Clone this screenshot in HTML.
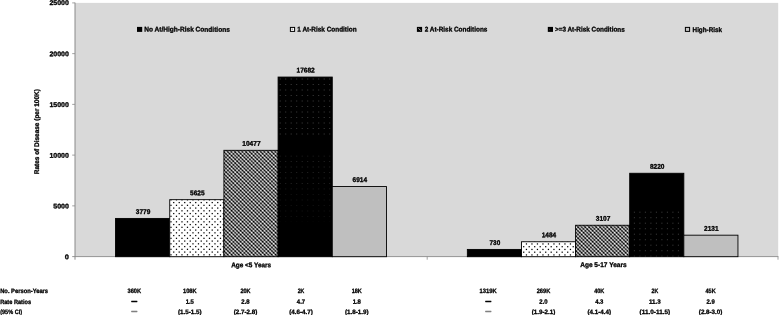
<!DOCTYPE html>
<html lang="en"><head><meta charset="utf-8"><title>Rates of Disease by Age Group and Risk Condition</title>
<style>html,body{margin:0;padding:0;background:#fff}svg{display:block}text{font-family:"Liberation Sans",sans-serif;font-weight:bold;fill:#000;stroke:#000;stroke-width:0.3px;stroke-linejoin:round}</style>
</head><body>
<svg width="779" height="315" viewBox="0 0 779 315">
<defs>
<pattern id="p5" patternUnits="userSpaceOnUse" x="172" y="201" width="11" height="11"><rect width="11" height="11" fill="#fff"/><rect x="1.100" y="0.950" width="1.25" height="1.25" fill="#000"/><rect x="3.850" y="3.700" width="1.25" height="1.25" fill="#000"/><rect x="1.100" y="6.450" width="1.25" height="1.25" fill="#000"/><rect x="3.850" y="9.200" width="1.25" height="1.25" fill="#000"/><rect x="6.600" y="0.950" width="1.25" height="1.25" fill="#000"/><rect x="9.350" y="3.700" width="1.25" height="1.25" fill="#000"/><rect x="6.600" y="6.450" width="1.25" height="1.25" fill="#000"/><rect x="9.350" y="9.200" width="1.25" height="1.25" fill="#000"/></pattern>
<pattern id="p5b" patternUnits="userSpaceOnUse" x="512" y="201" width="11" height="11"><rect width="11" height="11" fill="#fff"/><rect x="0.075" y="1.075" width="1.25" height="1.25" fill="#000"/><rect x="2.825" y="3.825" width="1.25" height="1.25" fill="#000"/><rect x="0.075" y="6.575" width="1.25" height="1.25" fill="#000"/><rect x="2.825" y="9.325" width="1.25" height="1.25" fill="#000"/><rect x="5.575" y="1.075" width="1.25" height="1.25" fill="#000"/><rect x="8.325" y="3.825" width="1.25" height="1.25" fill="#000"/><rect x="5.575" y="6.575" width="1.25" height="1.25" fill="#000"/><rect x="8.325" y="9.325" width="1.25" height="1.25" fill="#000"/></pattern>
<pattern id="pk" patternUnits="userSpaceOnUse" x="279" y="78" width="11" height="11"><rect x="0.70" y="0.50" width="1" height="1" fill="#3d3d3d"/><rect x="0.70" y="6.00" width="1" height="1" fill="#3d3d3d"/><rect x="6.20" y="0.50" width="1" height="1" fill="#3d3d3d"/><rect x="6.20" y="6.00" width="1" height="1" fill="#3d3d3d"/></pattern>
<pattern id="pk2" patternUnits="userSpaceOnUse" x="633" y="211" width="11" height="11"><rect x="0.90" y="0.70" width="1" height="1" fill="#3d3d3d"/><rect x="0.90" y="6.20" width="1" height="1" fill="#3d3d3d"/><rect x="6.40" y="0.70" width="1" height="1" fill="#3d3d3d"/><rect x="6.40" y="6.20" width="1" height="1" fill="#3d3d3d"/></pattern>
<pattern id="pc" patternUnits="userSpaceOnUse" x="224" y="150" width="11" height="11">
<rect x="0" y="0" width="1.02" height="1.02" fill="#e5e5e5"/>
<rect x="1" y="0" width="1.02" height="1.02" fill="#474747"/>
<rect x="2" y="0" width="1.02" height="1.02" fill="#0e0e0e"/>
<rect x="3" y="0" width="1.02" height="1.02" fill="#a2a2a2"/>
<rect x="4" y="0" width="1.02" height="1.02" fill="#b8b8b8"/>
<rect x="5" y="0" width="1.02" height="1.02" fill="#3d3d3d"/>
<rect x="6" y="0" width="1.02" height="1.02" fill="#5d5d5d"/>
<rect x="7" y="0" width="1.02" height="1.02" fill="#c0c0c0"/>
<rect x="8" y="0" width="1.02" height="1.02" fill="#646464"/>
<rect x="9" y="0" width="1.02" height="1.02" fill="#101010"/>
<rect x="10" y="0" width="1.02" height="1.02" fill="#9a9a9a"/>
<rect x="0" y="1" width="1.02" height="1.02" fill="#474747"/>
<rect x="1" y="1" width="1.02" height="1.02" fill="#b0b0b0"/>
<rect x="2" y="1" width="1.02" height="1.02" fill="#909090"/>
<rect x="3" y="1" width="1.02" height="1.02" fill="#323232"/>
<rect x="4" y="1" width="1.02" height="1.02" fill="#6d6d6d"/>
<rect x="5" y="1" width="1.02" height="1.02" fill="#b7b7b7"/>
<rect x="6" y="1" width="1.02" height="1.02" fill="#666666"/>
<rect x="7" y="1" width="1.02" height="1.02" fill="#343434"/>
<rect x="8" y="1" width="1.02" height="1.02" fill="#969696"/>
<rect x="9" y="1" width="1.02" height="1.02" fill="#adadad"/>
<rect x="10" y="1" width="1.02" height="1.02" fill="#434343"/>
<rect x="0" y="2" width="1.02" height="1.02" fill="#0e0e0e"/>
<rect x="1" y="2" width="1.02" height="1.02" fill="#909090"/>
<rect x="2" y="2" width="1.02" height="1.02" fill="#d4d4d4"/>
<rect x="3" y="2" width="1.02" height="1.02" fill="#5a5a5a"/>
<rect x="4" y="2" width="1.02" height="1.02" fill="#313131"/>
<rect x="5" y="2" width="1.02" height="1.02" fill="#969696"/>
<rect x="6" y="2" width="1.02" height="1.02" fill="#8e8e8e"/>
<rect x="7" y="2" width="1.02" height="1.02" fill="#3c3c3c"/>
<rect x="8" y="2" width="1.02" height="1.02" fill="#7d7d7d"/>
<rect x="9" y="2" width="1.02" height="1.02" fill="#c8c8c8"/>
<rect x="10" y="2" width="1.02" height="1.02" fill="#5a5a5a"/>
<rect x="0" y="3" width="1.02" height="1.02" fill="#a2a2a2"/>
<rect x="1" y="3" width="1.02" height="1.02" fill="#323232"/>
<rect x="2" y="3" width="1.02" height="1.02" fill="#5a5a5a"/>
<rect x="3" y="3" width="1.02" height="1.02" fill="#d3d3d3"/>
<rect x="4" y="3" width="1.02" height="1.02" fill="#838383"/>
<rect x="5" y="3" width="1.02" height="1.02" fill="#080808"/>
<rect x="6" y="3" width="1.02" height="1.02" fill="#6c6c6c"/>
<rect x="7" y="3" width="1.02" height="1.02" fill="#d7d7d7"/>
<rect x="8" y="3" width="1.02" height="1.02" fill="#6e6e6e"/>
<rect x="9" y="3" width="1.02" height="1.02" fill="#2a2a2a"/>
<rect x="10" y="3" width="1.02" height="1.02" fill="#949494"/>
<rect x="0" y="4" width="1.02" height="1.02" fill="#b8b8b8"/>
<rect x="1" y="4" width="1.02" height="1.02" fill="#6d6d6d"/>
<rect x="2" y="4" width="1.02" height="1.02" fill="#313131"/>
<rect x="3" y="4" width="1.02" height="1.02" fill="#838383"/>
<rect x="4" y="4" width="1.02" height="1.02" fill="#aaaaaa"/>
<rect x="5" y="4" width="1.02" height="1.02" fill="#595959"/>
<rect x="6" y="4" width="1.02" height="1.02" fill="#515151"/>
<rect x="7" y="4" width="1.02" height="1.02" fill="#9e9e9e"/>
<rect x="8" y="4" width="1.02" height="1.02" fill="#848484"/>
<rect x="9" y="4" width="1.02" height="1.02" fill="#3a3a3a"/>
<rect x="10" y="4" width="1.02" height="1.02" fill="#727272"/>
<rect x="0" y="5" width="1.02" height="1.02" fill="#3d3d3d"/>
<rect x="1" y="5" width="1.02" height="1.02" fill="#b7b7b7"/>
<rect x="2" y="5" width="1.02" height="1.02" fill="#969696"/>
<rect x="3" y="5" width="1.02" height="1.02" fill="#080808"/>
<rect x="4" y="5" width="1.02" height="1.02" fill="#595959"/>
<rect x="5" y="5" width="1.02" height="1.02" fill="#f3f3f3"/>
<rect x="6" y="5" width="1.02" height="1.02" fill="#8c8c8c"/>
<rect x="7" y="5" width="1.02" height="1.02" fill="#000000"/>
<rect x="8" y="5" width="1.02" height="1.02" fill="#6a6a6a"/>
<rect x="9" y="5" width="1.02" height="1.02" fill="#cccccc"/>
<rect x="10" y="5" width="1.02" height="1.02" fill="#5e5e5e"/>
<rect x="0" y="6" width="1.02" height="1.02" fill="#5d5d5d"/>
<rect x="1" y="6" width="1.02" height="1.02" fill="#666666"/>
<rect x="2" y="6" width="1.02" height="1.02" fill="#8e8e8e"/>
<rect x="3" y="6" width="1.02" height="1.02" fill="#6c6c6c"/>
<rect x="4" y="6" width="1.02" height="1.02" fill="#515151"/>
<rect x="5" y="6" width="1.02" height="1.02" fill="#8c8c8c"/>
<rect x="6" y="6" width="1.02" height="1.02" fill="#a0a0a0"/>
<rect x="7" y="6" width="1.02" height="1.02" fill="#575757"/>
<rect x="8" y="6" width="1.02" height="1.02" fill="#464646"/>
<rect x="9" y="6" width="1.02" height="1.02" fill="#8e8e8e"/>
<rect x="10" y="6" width="1.02" height="1.02" fill="#979797"/>
<rect x="0" y="7" width="1.02" height="1.02" fill="#c0c0c0"/>
<rect x="1" y="7" width="1.02" height="1.02" fill="#343434"/>
<rect x="2" y="7" width="1.02" height="1.02" fill="#3c3c3c"/>
<rect x="3" y="7" width="1.02" height="1.02" fill="#d7d7d7"/>
<rect x="4" y="7" width="1.02" height="1.02" fill="#9e9e9e"/>
<rect x="5" y="7" width="1.02" height="1.02" fill="#000000"/>
<rect x="6" y="7" width="1.02" height="1.02" fill="#575757"/>
<rect x="7" y="7" width="1.02" height="1.02" fill="#e8e8e8"/>
<rect x="8" y="7" width="1.02" height="1.02" fill="#7c7c7c"/>
<rect x="9" y="7" width="1.02" height="1.02" fill="#111111"/>
<rect x="10" y="7" width="1.02" height="1.02" fill="#8d8d8d"/>
<rect x="0" y="8" width="1.02" height="1.02" fill="#646464"/>
<rect x="1" y="8" width="1.02" height="1.02" fill="#969696"/>
<rect x="2" y="8" width="1.02" height="1.02" fill="#7d7d7d"/>
<rect x="3" y="8" width="1.02" height="1.02" fill="#6e6e6e"/>
<rect x="4" y="8" width="1.02" height="1.02" fill="#848484"/>
<rect x="5" y="8" width="1.02" height="1.02" fill="#6a6a6a"/>
<rect x="6" y="8" width="1.02" height="1.02" fill="#464646"/>
<rect x="7" y="8" width="1.02" height="1.02" fill="#7c7c7c"/>
<rect x="8" y="8" width="1.02" height="1.02" fill="#b3b3b3"/>
<rect x="9" y="8" width="1.02" height="1.02" fill="#7a7a7a"/>
<rect x="10" y="8" width="1.02" height="1.02" fill="#3a3a3a"/>
<rect x="0" y="9" width="1.02" height="1.02" fill="#101010"/>
<rect x="1" y="9" width="1.02" height="1.02" fill="#adadad"/>
<rect x="2" y="9" width="1.02" height="1.02" fill="#c8c8c8"/>
<rect x="3" y="9" width="1.02" height="1.02" fill="#2a2a2a"/>
<rect x="4" y="9" width="1.02" height="1.02" fill="#3a3a3a"/>
<rect x="5" y="9" width="1.02" height="1.02" fill="#cccccc"/>
<rect x="6" y="9" width="1.02" height="1.02" fill="#8e8e8e"/>
<rect x="7" y="9" width="1.02" height="1.02" fill="#111111"/>
<rect x="8" y="9" width="1.02" height="1.02" fill="#7a7a7a"/>
<rect x="9" y="9" width="1.02" height="1.02" fill="#dcdcdc"/>
<rect x="10" y="9" width="1.02" height="1.02" fill="#515151"/>
<rect x="0" y="10" width="1.02" height="1.02" fill="#9a9a9a"/>
<rect x="1" y="10" width="1.02" height="1.02" fill="#434343"/>
<rect x="2" y="10" width="1.02" height="1.02" fill="#5a5a5a"/>
<rect x="3" y="10" width="1.02" height="1.02" fill="#949494"/>
<rect x="4" y="10" width="1.02" height="1.02" fill="#727272"/>
<rect x="5" y="10" width="1.02" height="1.02" fill="#5e5e5e"/>
<rect x="6" y="10" width="1.02" height="1.02" fill="#979797"/>
<rect x="7" y="10" width="1.02" height="1.02" fill="#8d8d8d"/>
<rect x="8" y="10" width="1.02" height="1.02" fill="#3a3a3a"/>
<rect x="9" y="10" width="1.02" height="1.02" fill="#515151"/>
<rect x="10" y="10" width="1.02" height="1.02" fill="#b2b2b2"/>
</pattern>
</defs>
<rect width="779" height="315" fill="#fff"/>
<rect x="75" y="2.9" width="703.2" height="253.70000000000002" fill="#d9d9d9"/>
<line x1="75" y1="2.6" x2="75" y2="259.70000000000005" stroke="#8a8a8a" stroke-width="1"/>
<line x1="72.2" y1="256.6" x2="778.4" y2="256.6" stroke="#8a8a8a" stroke-width="0.9"/>
<line x1="72.2" y1="2.90" x2="75" y2="2.90" stroke="#8a8a8a" stroke-width="0.8"/>
<line x1="72.2" y1="53.64" x2="75" y2="53.64" stroke="#8a8a8a" stroke-width="0.8"/>
<line x1="72.2" y1="104.38" x2="75" y2="104.38" stroke="#8a8a8a" stroke-width="0.8"/>
<line x1="72.2" y1="155.12" x2="75" y2="155.12" stroke="#8a8a8a" stroke-width="0.8"/>
<line x1="72.2" y1="205.86" x2="75" y2="205.86" stroke="#8a8a8a" stroke-width="0.8"/>
<line x1="427.2" y1="256.6" x2="427.2" y2="259.70000000000005" stroke="#8a8a8a" stroke-width="0.8"/>
<line x1="778.0" y1="256.6" x2="778.0" y2="259.70000000000005" stroke="#8a8a8a" stroke-width="0.8"/>
<rect x="115.55" y="218.43" width="54.18" height="38.27" fill="#000" stroke="#000" stroke-width="0.9"/>
<rect x="169.73" y="199.66" width="54.18" height="57.04" fill="url(#p5)" stroke="#000" stroke-width="0.9"/>
<rect x="223.91" y="150.32" width="54.18" height="106.38" fill="url(#pc)" stroke="#000" stroke-width="0.9"/>
<rect x="278.09" y="77.06" width="54.18" height="179.64" fill="#000" stroke="#000" stroke-width="0.9"/>
<rect x="279.09" y="77.56" width="52.18" height="58.44" fill="url(#pk)"/>
<rect x="279.09" y="155.5" width="52.18" height="33" fill="url(#pk)" opacity="0.6"/>
<rect x="279.09" y="188.5" width="52.18" height="33" fill="url(#pk)" opacity="0.3"/>
<rect x="332.27" y="186.55" width="54.18" height="70.15" fill="#bfbfbf" stroke="#000" stroke-width="0.9"/>
<rect x="467.35" y="249.43" width="54.12" height="7.27" fill="#000" stroke="#000" stroke-width="0.9"/>
<rect x="521.47" y="241.76" width="54.12" height="14.94" fill="url(#p5b)" stroke="#000" stroke-width="0.9"/>
<rect x="575.59" y="225.26" width="54.12" height="31.44" fill="url(#pc)" stroke="#000" stroke-width="0.9"/>
<rect x="629.71" y="173.27" width="54.12" height="83.43" fill="#000" stroke="#000" stroke-width="0.9"/>
<rect x="630.71" y="210.5" width="52.12" height="46.10" fill="url(#pk2)"/>
<rect x="683.83" y="235.18" width="54.12" height="21.52" fill="#bfbfbf" stroke="#000" stroke-width="0.9"/>
<text x="143.09" y="213.93" transform="rotate(0.03 143.09 213.93)" font-size="6.8" text-anchor="middle" textLength="14.50" lengthAdjust="spacingAndGlyphs">3779</text>
<text x="197.27" y="195.16" transform="rotate(0.03 197.27 195.16)" font-size="6.8" text-anchor="middle" textLength="14.50" lengthAdjust="spacingAndGlyphs">5625</text>
<text x="251.45" y="145.82" transform="rotate(0.03 251.45 145.82)" font-size="6.8" text-anchor="middle" textLength="18.30" lengthAdjust="spacingAndGlyphs">10477</text>
<text x="305.63" y="72.56" transform="rotate(0.03 305.63 72.56)" font-size="6.8" text-anchor="middle" textLength="18.30" lengthAdjust="spacingAndGlyphs">17682</text>
<text x="359.81" y="182.05" transform="rotate(0.03 359.81 182.05)" font-size="6.8" text-anchor="middle" textLength="14.50" lengthAdjust="spacingAndGlyphs">6914</text>
<text x="494.86" y="244.93" transform="rotate(0.03 494.86 244.93)" font-size="6.8" text-anchor="middle" textLength="10.70" lengthAdjust="spacingAndGlyphs">730</text>
<text x="548.98" y="237.26" transform="rotate(0.03 548.98 237.26)" font-size="6.8" text-anchor="middle" textLength="14.50" lengthAdjust="spacingAndGlyphs">1484</text>
<text x="603.10" y="220.76" transform="rotate(0.03 603.10 220.76)" font-size="6.8" text-anchor="middle" textLength="14.50" lengthAdjust="spacingAndGlyphs">3107</text>
<text x="657.22" y="168.77" transform="rotate(0.03 657.22 168.77)" font-size="6.8" text-anchor="middle" textLength="14.50" lengthAdjust="spacingAndGlyphs">8220</text>
<text x="711.34" y="230.68" transform="rotate(0.03 711.34 230.68)" font-size="6.8" text-anchor="middle" textLength="14.50" lengthAdjust="spacingAndGlyphs">2131</text>
<text x="68.90" y="4.90" transform="rotate(0.03 68.90 4.90)" font-size="6.8" text-anchor="end" textLength="19.45" lengthAdjust="spacingAndGlyphs">25000</text>
<text x="68.90" y="56.19" transform="rotate(0.03 68.90 56.19)" font-size="6.8" text-anchor="end" textLength="19.45" lengthAdjust="spacingAndGlyphs">20000</text>
<text x="68.90" y="106.93" transform="rotate(0.03 68.90 106.93)" font-size="6.8" text-anchor="end" textLength="19.45" lengthAdjust="spacingAndGlyphs">15000</text>
<text x="68.90" y="157.67" transform="rotate(0.03 68.90 157.67)" font-size="6.8" text-anchor="end" textLength="19.45" lengthAdjust="spacingAndGlyphs">10000</text>
<text x="68.90" y="208.41" transform="rotate(0.03 68.90 208.41)" font-size="6.8" text-anchor="end" textLength="15.62" lengthAdjust="spacingAndGlyphs">5000</text>
<text x="68.90" y="259.15" transform="rotate(0.03 68.90 259.15)" font-size="6.8" text-anchor="end" textLength="4.13" lengthAdjust="spacingAndGlyphs">0</text>
<text transform="translate(38.95,131.7) rotate(-89.97)" font-size="6.8" text-anchor="middle" textLength="85.1" lengthAdjust="spacingAndGlyphs">Rates of Disease (per 100K)</text>
<rect x="137.0" y="26.9" width="5.2" height="5.0" fill="#000"/>
<text x="144.20" y="31.60" transform="rotate(0.03 144.20 31.60)" font-size="6.8" text-anchor="start" textLength="85.60" lengthAdjust="spacingAndGlyphs">No At/High-Risk Conditions</text>
<rect x="290.4" y="27.4" width="4.2" height="4.0" fill="#fff" stroke="#000" stroke-width="1"/>
<rect x="291.7" y="28.599999999999998" width="1.1" height="1.1" fill="#555"/>
<text x="297.30" y="31.60" transform="rotate(0.03 297.30 31.60)" font-size="6.8" text-anchor="start" textLength="59.30" lengthAdjust="spacingAndGlyphs">1 At-Risk Condition</text>
<rect x="416.9" y="26.9" width="5.2" height="5.0" fill="#000"/>
<line x1="418.4" y1="28.4" x2="420.79999999999995" y2="30.5" stroke="#b4b4b4" stroke-width="0.9"/>
<text x="424.70" y="31.60" transform="rotate(0.03 424.70 31.60)" font-size="6.8" text-anchor="start" textLength="62.70" lengthAdjust="spacingAndGlyphs">2 At-Risk Conditions</text>
<rect x="547.8" y="26.9" width="5.2" height="5.0" fill="#000"/>
<rect x="549.0999999999999" y="28.799999999999997" width="1" height="1" fill="#3c3c3c"/>
<text x="555.00" y="31.60" transform="rotate(0.03 555.00 31.60)" font-size="6.8" text-anchor="start" textLength="69.80" lengthAdjust="spacingAndGlyphs">&gt;=3 At-Risk Conditions</text>
<rect x="685.4" y="27.4" width="4.2" height="4.0" fill="#c4c4c4" stroke="#000" stroke-width="1"/>
<text x="692.60" y="31.60" transform="rotate(0.03 692.60 31.60)" font-size="6.8" text-anchor="start" textLength="29.30" lengthAdjust="spacingAndGlyphs">High-Risk</text>
<text x="251.20" y="267.20" transform="rotate(0.03 251.20 267.20)" font-size="6.8" text-anchor="middle" textLength="40.00" lengthAdjust="spacingAndGlyphs">Age &lt;5 Years</text>
<text x="603.40" y="267.10" transform="rotate(0.03 603.40 267.10)" font-size="6.8" text-anchor="middle" textLength="46.40" lengthAdjust="spacingAndGlyphs">Age 5-17 Years</text>
<text x="0.20" y="293.40" transform="rotate(0.03 0.20 293.40)" font-size="6.3" text-anchor="start" textLength="47.90" lengthAdjust="spacingAndGlyphs">No. Person-Years</text>
<text x="0.20" y="303.80" transform="rotate(0.03 0.20 303.80)" font-size="6.3" text-anchor="start" textLength="30.90" lengthAdjust="spacingAndGlyphs">Rate Ratios</text>
<text x="0.20" y="313.90" transform="rotate(0.03 0.20 313.90)" font-size="6.3" text-anchor="start" textLength="21.90" lengthAdjust="spacingAndGlyphs">(95% CI)</text>
<text x="134.30" y="293.40" transform="rotate(0.03 134.30 293.40)" font-size="6.3" text-anchor="middle" textLength="13.67" lengthAdjust="spacingAndGlyphs">360K</text>
<text x="189.80" y="293.40" transform="rotate(0.03 189.80 293.40)" font-size="6.3" text-anchor="middle" textLength="13.67" lengthAdjust="spacingAndGlyphs">108K</text>
<text x="245.50" y="293.40" transform="rotate(0.03 245.50 293.40)" font-size="6.3" text-anchor="middle" textLength="10.18" lengthAdjust="spacingAndGlyphs">20K</text>
<text x="301.00" y="293.40" transform="rotate(0.03 301.00 293.40)" font-size="6.3" text-anchor="middle" textLength="6.69" lengthAdjust="spacingAndGlyphs">2K</text>
<text x="356.80" y="293.40" transform="rotate(0.03 356.80 293.40)" font-size="6.3" text-anchor="middle" textLength="10.18" lengthAdjust="spacingAndGlyphs">18K</text>
<text x="134.30" y="302.90" font-size="6.3" text-anchor="middle" textLength="5.6" lengthAdjust="spacingAndGlyphs" style="fill:#000;stroke:#000;stroke-width:0.55px">—</text>
<text x="189.80" y="303.80" transform="rotate(0.03 189.80 303.80)" font-size="6.3" text-anchor="middle" textLength="8.28" lengthAdjust="spacingAndGlyphs">1.5</text>
<text x="245.50" y="303.80" transform="rotate(0.03 245.50 303.80)" font-size="6.3" text-anchor="middle" textLength="8.28" lengthAdjust="spacingAndGlyphs">2.8</text>
<text x="301.00" y="303.80" transform="rotate(0.03 301.00 303.80)" font-size="6.3" text-anchor="middle" textLength="8.28" lengthAdjust="spacingAndGlyphs">4.7</text>
<text x="356.80" y="303.80" transform="rotate(0.03 356.80 303.80)" font-size="6.3" text-anchor="middle" textLength="8.28" lengthAdjust="spacingAndGlyphs">1.8</text>
<text x="134.30" y="313.00" font-size="6.3" text-anchor="middle" textLength="5.6" lengthAdjust="spacingAndGlyphs" style="fill:#808080;stroke:#808080;stroke-width:0.55px">—</text>
<text x="189.80" y="313.90" transform="rotate(0.03 189.80 313.90)" font-size="6.3" text-anchor="middle" textLength="23.56" lengthAdjust="spacingAndGlyphs">(1.5-1.5)</text>
<text x="245.50" y="313.90" transform="rotate(0.03 245.50 313.90)" font-size="6.3" text-anchor="middle" textLength="23.56" lengthAdjust="spacingAndGlyphs">(2.7-2.8)</text>
<text x="301.00" y="313.90" transform="rotate(0.03 301.00 313.90)" font-size="6.3" text-anchor="middle" textLength="23.56" lengthAdjust="spacingAndGlyphs">(4.6-4.7)</text>
<text x="356.80" y="313.90" transform="rotate(0.03 356.80 313.90)" font-size="6.3" text-anchor="middle" textLength="23.56" lengthAdjust="spacingAndGlyphs">(1.8-1.9)</text>
<text x="488.20" y="293.40" transform="rotate(0.03 488.20 293.40)" font-size="6.3" text-anchor="middle" textLength="17.16" lengthAdjust="spacingAndGlyphs">1319K</text>
<text x="543.50" y="293.40" transform="rotate(0.03 543.50 293.40)" font-size="6.3" text-anchor="middle" textLength="13.67" lengthAdjust="spacingAndGlyphs">269K</text>
<text x="599.30" y="293.40" transform="rotate(0.03 599.30 293.40)" font-size="6.3" text-anchor="middle" textLength="10.18" lengthAdjust="spacingAndGlyphs">40K</text>
<text x="654.90" y="293.40" transform="rotate(0.03 654.90 293.40)" font-size="6.3" text-anchor="middle" textLength="6.69" lengthAdjust="spacingAndGlyphs">2K</text>
<text x="710.60" y="293.40" transform="rotate(0.03 710.60 293.40)" font-size="6.3" text-anchor="middle" textLength="10.18" lengthAdjust="spacingAndGlyphs">45K</text>
<text x="488.20" y="302.90" font-size="6.3" text-anchor="middle" textLength="5.6" lengthAdjust="spacingAndGlyphs" style="fill:#000;stroke:#000;stroke-width:0.55px">—</text>
<text x="543.50" y="303.80" transform="rotate(0.03 543.50 303.80)" font-size="6.3" text-anchor="middle" textLength="8.28" lengthAdjust="spacingAndGlyphs">2.0</text>
<text x="599.30" y="303.80" transform="rotate(0.03 599.30 303.80)" font-size="6.3" text-anchor="middle" textLength="8.28" lengthAdjust="spacingAndGlyphs">4.3</text>
<text x="654.90" y="303.80" transform="rotate(0.03 654.90 303.80)" font-size="6.3" text-anchor="middle" textLength="11.77" lengthAdjust="spacingAndGlyphs">11.3</text>
<text x="710.60" y="303.80" transform="rotate(0.03 710.60 303.80)" font-size="6.3" text-anchor="middle" textLength="8.28" lengthAdjust="spacingAndGlyphs">2.9</text>
<text x="488.20" y="313.00" font-size="6.3" text-anchor="middle" textLength="5.6" lengthAdjust="spacingAndGlyphs" style="fill:#808080;stroke:#808080;stroke-width:0.55px">—</text>
<text x="543.50" y="313.90" transform="rotate(0.03 543.50 313.90)" font-size="6.3" text-anchor="middle" textLength="23.56" lengthAdjust="spacingAndGlyphs">(1.9-2.1)</text>
<text x="599.30" y="313.90" transform="rotate(0.03 599.30 313.90)" font-size="6.3" text-anchor="middle" textLength="23.56" lengthAdjust="spacingAndGlyphs">(4.1-4.4)</text>
<text x="654.90" y="313.90" transform="rotate(0.03 654.90 313.90)" font-size="6.3" text-anchor="middle" textLength="30.54" lengthAdjust="spacingAndGlyphs">(11.0-11.5)</text>
<text x="710.60" y="313.90" transform="rotate(0.03 710.60 313.90)" font-size="6.3" text-anchor="middle" textLength="23.56" lengthAdjust="spacingAndGlyphs">(2.8-3.0)</text>
</svg></body></html>
